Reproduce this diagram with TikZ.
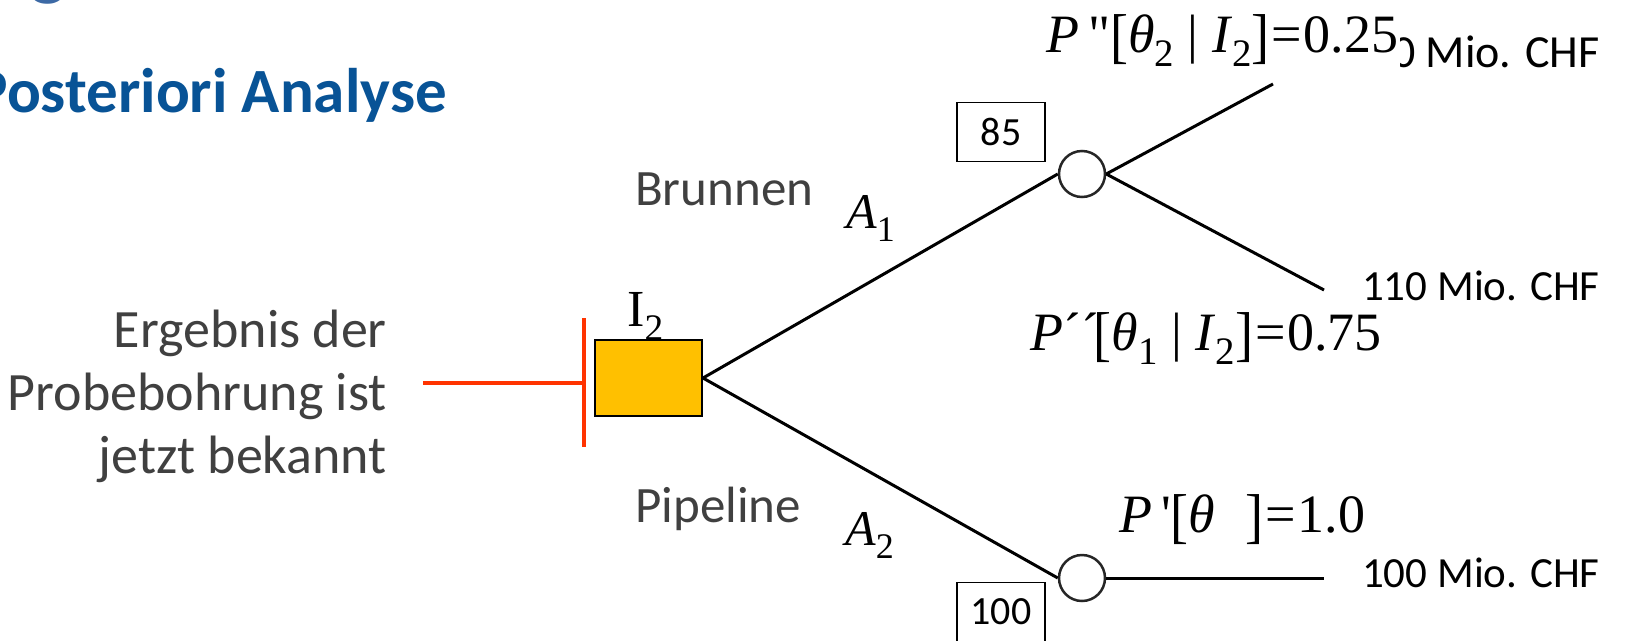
\documentclass[tikz,border=0pt]{standalone}
\usepackage{fontspec}
\usepackage{graphicx}
\setmainfont{Liberation Serif}
\newfontfamily\plainserif{Liberation Serif}
\newfontfamily\calfont{Carlito}
\definecolor{titleblue}{RGB}{8,83,150}
\definecolor{gblue}{RGB}{60,105,165}
\definecolor{txtgray}{RGB}{64,64,64}
\definecolor{decfill}{RGB}{255,192,0}
\definecolor{redline}{RGB}{255,51,0}
\newcommand\lsub[1]{\raisebox{-0.27em}{\scalebox{0.72}{#1}}}
\newcommand\lbr{\raisebox{-0.09em}{\scalebox{1}[1.12]{[}}}
\newcommand\rbr{\raisebox{-0.09em}{\scalebox{1}[1.12]{]}}}
\newcommand\sq{{\plainserif\symbol{39}}}
\newcommand\dq{{\plainserif\symbol{34}}}
\newcommand\eqs{\kern2pt=\kern2pt}
\tikzset{
  branch/.style={line width=3pt, draw=black},
  decbox/.style={draw=black, line width=2pt, fill=decfill, minimum width=107pt, minimum height=76pt, inner sep=0pt},
  chance/.style={circle, draw=black!85, line width=2.5pt, fill=white, minimum size=46pt, inner sep=0pt},
  valbox/.style={draw=black, line width=1.5pt, minimum width=88pt, minimum height=59pt, inner sep=0pt, font=\calfont\fontsize{40}{40}\selectfont},
  sanslabel/.style={inner sep=0pt, text=txtgray, font=\calfont\fontsize{51}{51}\selectfont},
  leftlabel/.style={inner sep=0pt, text=txtgray, font=\calfont\fontsize{54}{54}\selectfont},
  outcome/.style={inner sep=0pt, font=\calfont\fontsize{43}{43}\selectfont},
  prob/.style={inner sep=2pt, font=\fontsize{54}{54}\selectfont},
  actlabel/.style={inner sep=0pt, font=\fontsize{50}{50}\selectfont},
  infoline/.style={line width=4pt, draw=redline},
}
\begin{document}
\begin{tikzpicture}[x=1pt,y=-1pt]
\useasboundingbox (0,0) rectangle (1637,640);
\clip (0,0) rectangle (1637,640);
\fill[white] (0,0) rectangle (1637,640);

% headings
\node[anchor=base west, inner sep=0pt, text=gblue, font=\calfont\fontsize{80}{80}\selectfont] (gtitle) at (29,-10) {g};
\node[anchor=base east, inner sep=0pt, text=titleblue, font=\calfont\bfseries\fontsize{63}{63}\selectfont] (subtitle) at (447,112) {Posteriori Analyse};

% left explanation
\node[leftlabel, anchor=base east] (l1) at (387,347) {Ergebnis der};
\node[leftlabel, anchor=base east] (l2) at (387,410) {Probebohrung ist};
\node[leftlabel, anchor=base east] (l3) at (387,473) {jetzt bekannt};

% information line
\coordinate (r0) at (423,383);
\coordinate (rm) at (584,383);
\coordinate (rt) at (584,318);
\coordinate (rb) at (584,447);
\draw[infoline] (r0) -- (rm);
\draw[infoline] (rt) -- (rb);

% nodes
\node[decbox] (d) at (648.5,378) {};
\node[anchor=base west, inner sep=0pt, font=\fontsize{52}{52}\selectfont] (ilab) at (627,326) {I\lsub{2}};
\node[chance] (c1) at (1082,174) {};
\node[chance] (c2) at (1082,578) {};
\coordinate (e1) at (1273,84);
\coordinate (e2) at (1324,290);
\coordinate (e3) at (1324,578);

\draw[branch] (d.east) -- (c1.west);
\draw[branch] (d.east) -- (c2.west);
\draw[branch] (c1.east) -- (e1);
\draw[branch] (c1.east) -- (e2);
\draw[branch] (c2.east) -- (e3);

% value boxes
\node[valbox] (b85) at (1001,132) {85};
\node[valbox] (b100) at (1001,612) {100};

% action labels
\node[sanslabel, anchor=base west] (brunnen) at (635,205) {Brunnen};
\node[sanslabel, anchor=base west] (pipeline) at (635,522) {Pipeline};
\node[actlabel, anchor=base west] (a1) at (846,228) {\textit{A}\lsub{1}};
\node[actlabel, anchor=base west] (a2) at (845,545) {\textit{A}\lsub{2}};

% outcomes
\node[outcome, anchor=base east, font=\calfont\fontsize{46}{46}\selectfont] (o1) at (1600,67) {0 Mio. CHF};
\node[outcome, anchor=base east] (o2) at (1600,300) {110 Mio. CHF};
\node[outcome, anchor=base east] (o3) at (1600,587) {100 Mio. CHF};

% probabilities
\node[prob, anchor=base west, fill=white] (p1) at (1044,52) {\textit{P}\,\dq\lbr\textit{θ}\lsub{2} | \textit{I}\lsub{2}\rbr\eqs0.25\hspace{6pt}};
\node[prob, anchor=base west] (p2) at (1028,350) {\textit{P}´´\kern-0.1em\lbr\textit{θ}\lsub{1} | \textit{I}\lsub{2}\rbr\eqs0.75};
\node[prob, anchor=base west] (p3) at (1117,532) {\textit{P}\,\sq\lbr\textit{θ}\hspace{0.55em}\rbr\eqs1.0};
\end{tikzpicture}
\end{document}
